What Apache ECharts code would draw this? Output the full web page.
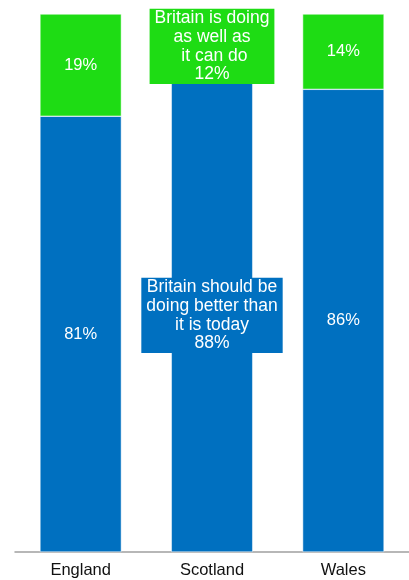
<!DOCTYPE html>
<html><head><meta charset="utf-8">
<script src="https://cdn.jsdelivr.net/npm/echarts@6/dist/echarts.min.js"></script>
<style>html,body{margin:0;padding:0;background:#fff}#c{width:409px;height:580px}</style>
</head><body><div id="c"></div>
<script>
var categories = ['England', 'Scotland', 'Wales'];
var betterValues = [81, 88, 86];
var asWellValues = [19, 12, 14];
var betterName = 'Britain should be\ndoing better than\nit is today';
var asWellName = 'Britain is doing\nas well as\n it can do';

var font = 'Liberation Sans, Arial, sans-serif';
var chart = echarts.init(document.getElementById('c'));
function mkData(vals, name, color) {
  return vals.map(function (v, i) {
    var d = { value: v };
    if (i === 1) {
      d.label = {
        formatter: name + '\n{c}%',
        backgroundColor: color,
        fontSize: 17.5,
        lineHeight: 18.8,
        padding: [0, 5, 0, 5]
      };
    }
    return d;
  });
}
chart.setOption({
  animation: false,
  grid: { left: 15, width: 398, top: 14, height: 538, containLabel: false },
  xAxis: {
    type: 'category', data: categories,
    axisLine: { lineStyle: { color: '#a0a0a0', width: 1.5 } },
    axisTick: { show: false },
    axisLabel: { color: '#111', fontSize: 16.5, fontFamily: font, margin: 10 }
  },
  yAxis: { type: 'value', min: 0, max: 100, show: false, splitLine: { show: false } },
  series: [
    {
      name: 'better', type: 'bar', stack: 's', barWidth: '62%',
      data: mkData(betterValues, betterName, '#0070C0'),
      itemStyle: { color: '#0070C0', borderColor: '#fff', borderWidth: 0.5 },
      label: { show: true, position: 'inside', formatter: '{c}%', color: '#fff',
        fontSize: 16.5, lineHeight: 19, fontFamily: font, align: 'center' }
    },
    {
      name: 'aswell', type: 'bar', stack: 's', barWidth: '62%',
      data: mkData(asWellValues, asWellName, '#1EDC14'),
      itemStyle: { color: '#1EDC14', borderColor: '#fff', borderWidth: 0.5 },
      label: { show: true, position: 'inside', formatter: '{c}%', color: '#fff',
        fontSize: 16.5, lineHeight: 19, fontFamily: font, align: 'center' }
    }
  ]
});
</script></body></html>
